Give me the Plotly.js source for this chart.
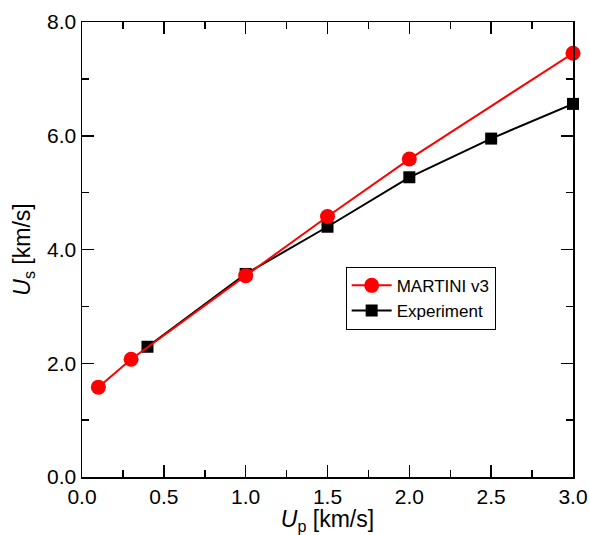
<!DOCTYPE html>
<html>
<head>
<meta charset="utf-8">
<script src="https://cdn.plot.ly/plotly-3.0.1.min.js"></script>
<style>html,body{margin:0;padding:0;background:#fff;}#chart{width:590px;height:535px;}</style>
</head>
<body>
<div id="chart"></div>
<script>
const martiniUp = [0.1, 0.3, 1.0, 1.5, 2.0, 3.0];
const martiniUs = [1.58, 2.07, 3.54, 4.58, 5.59, 7.45];
const expUp = [0.4, 1.0, 1.5, 2.0, 2.5, 3.0];
const expUs = [2.29, 3.57, 4.40, 5.27, 5.95, 6.56];
const xTicks = [0, 0.5, 1.0, 1.5, 2.0, 2.5, 3.0];
const yTicks = [0, 2, 4, 6, 8];

const FONT = 'Liberation Sans, Arial, sans-serif';

const traces = [
  {x: expUp, y: expUs, name: 'Experiment', type: 'scatter', mode: 'lines+markers',
   line: {color: '#000000', width: 2}, marker: {symbol: 'square', size: 12, color: '#000000'},
   cliponaxis: false, legendrank: 2},
  {x: martiniUp, y: martiniUs, name: 'MARTINI v3', type: 'scatter', mode: 'lines+markers',
   line: {color: '#ff0000', width: 2}, marker: {symbol: 'circle', size: 15, color: '#ff0000'},
   cliponaxis: false, legendrank: 1}
];

const axisCommon = {
  showgrid: false, zeroline: false, showline: true, linecolor: '#000', linewidth: 1.5,
  mirror: 'ticks', ticks: 'inside', ticklen: 12, tickwidth: 1.5, tickcolor: '#000',
  tickfont: {family: FONT, size: 21, color: '#000'}, tickformat: '.1f', fixedrange: true
};

const layout = {
  width: 590, height: 535,
  margin: {l: 82, r: 17, t: 22, b: 58},
  paper_bgcolor: '#fff', plot_bgcolor: '#fff',
  showlegend: true,
  legend: {x: 0.537, y: 0.462, xanchor: 'left', yanchor: 'top', bordercolor: '#000', borderwidth: 1,
           bgcolor: '#fff', font: {family: FONT, size: 17, color: '#000'}, tracegroupgap: 0,
           itemwidth: 40},
  xaxis: Object.assign({}, axisCommon, {
    range: [0, 3.0], tickvals: xTicks, automargin: false,
    minor: {tickvals: [0.25, 0.75, 1.25, 1.75, 2.25, 2.75], ticklen: 7, tickwidth: 1.5, tickcolor: '#000', ticks: 'inside'},
    title: {text: '<i>U</i><sub>p</sub> [km/s]', font: {family: FONT, size: 23, color: '#000'}, standoff: 0}
  }),
  yaxis: Object.assign({}, axisCommon, {
    range: [0, 8.0], tickvals: yTicks, automargin: false,
    minor: {tickvals: [1, 3, 5, 7], ticklen: 7, tickwidth: 1.5, tickcolor: '#000', ticks: 'inside'},
    title: {text: '<i>U</i><sub>s</sub> [km/s]', font: {family: FONT, size: 23, color: '#000'}, standoff: 10}
  })
};

Plotly.newPlot('chart', traces, layout, {displayModeBar: false, staticPlot: true});
</script>
</body>
</html>
